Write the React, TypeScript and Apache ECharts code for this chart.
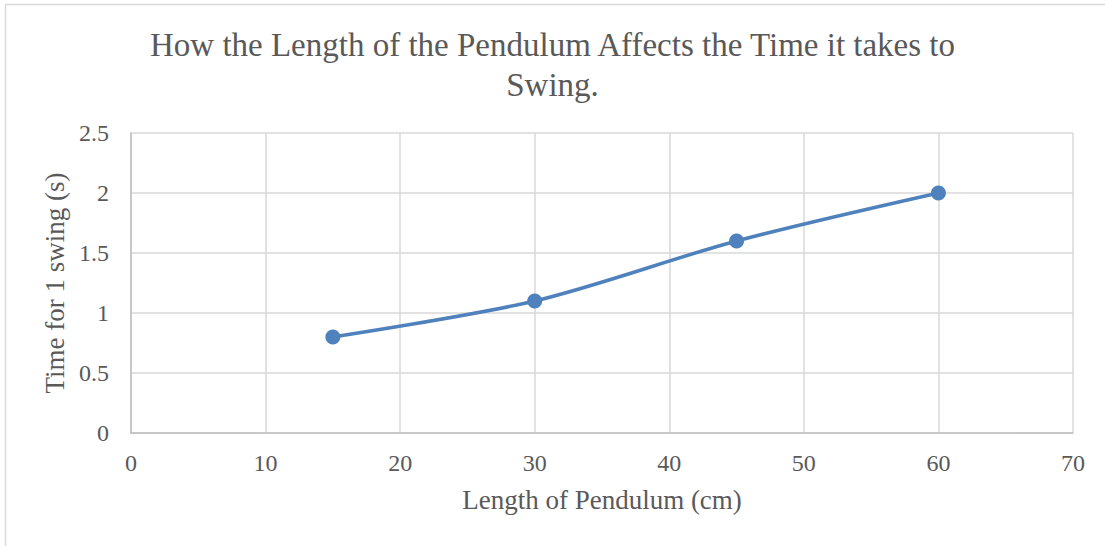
import React, { useEffect, useRef } from "react";
import * as echarts from "echarts";

const titleText = "How the Length of the Pendulum Affects the Time it takes to\nSwing.";
const xAxisName = "Length of Pendulum (cm)";
const yAxisName = "Time for 1 swing (s)";
const lengthCm = [15, 30, 45, 60];
const swingTime = [0.8, 1.1, 1.6, 2.0];

const FONT = "'Liberation Serif', serif";
const TEXT = "#595959";
const GRID = "#D9D9D9";

export default function App() {
  const ref = useRef<HTMLDivElement>(null);
  useEffect(() => {
    const chart = echarts.init(ref.current!, undefined, { renderer: "svg" });
    chart.setOption({
      animation: false,
      backgroundColor: "#fff",
      title: {
        text: titleText,
        left: "center",
        top: 20,
        textStyle: { fontFamily: FONT, fontSize: 33, fontWeight: "normal", color: TEXT, lineHeight: 40 },
      },
      graphic: [
        {
          type: "rect",
          shape: { x: 5.5, y: 4.5, width: 1110, height: 560 },
          style: { fill: "none", stroke: "#D9D9D9", lineWidth: 1.5 },
          silent: true,
        },
      ],
      grid: { left: 131, right: 32, top: 133, bottom: 113, containLabel: false },
      xAxis: {
        type: "value",
        min: 0,
        max: 70,
        interval: 10,
        name: xAxisName,
        nameLocation: "middle",
        nameGap: 53,
        nameTextStyle: { fontFamily: FONT, fontSize: 27, color: TEXT },
        axisLine: { show: true, lineStyle: { color: "#BFBFBF", width: 1.5 } },
        axisTick: { show: false },
        axisLabel: { fontFamily: FONT, fontSize: 24, color: TEXT, margin: 18 },
        splitLine: { show: true, lineStyle: { color: GRID, width: 1.5 } },
      },
      yAxis: {
        type: "value",
        min: 0,
        max: 2.5,
        interval: 0.5,
        name: yAxisName,
        nameLocation: "middle",
        nameGap: 56,
        nameTextStyle: { fontFamily: FONT, fontSize: 27, color: TEXT },
        axisLine: { show: true, lineStyle: { color: "#BFBFBF", width: 1.5 } },
        axisTick: { show: false },
        axisLabel: { fontFamily: FONT, fontSize: 24, color: TEXT, margin: 22 },
        splitLine: { show: true, lineStyle: { color: GRID, width: 1.5 } },
      },
      series: [
        {
          type: "line",
          data: lengthCm.map((x, i) => [x, swingTime[i]]),
          smooth: 0.3,
          symbol: "circle",
          symbolSize: 15,
          itemStyle: { color: "#4F81BD" },
          lineStyle: { color: "#4F81BD", width: 3.5 },
        },
      ],
    });
    return () => chart.dispose();
  }, []);
  return (
    <div
      ref={ref}
      style={{ position: "absolute", left: 0, top: 0, width: 1105, height: 546 }}
    />
  );
}
